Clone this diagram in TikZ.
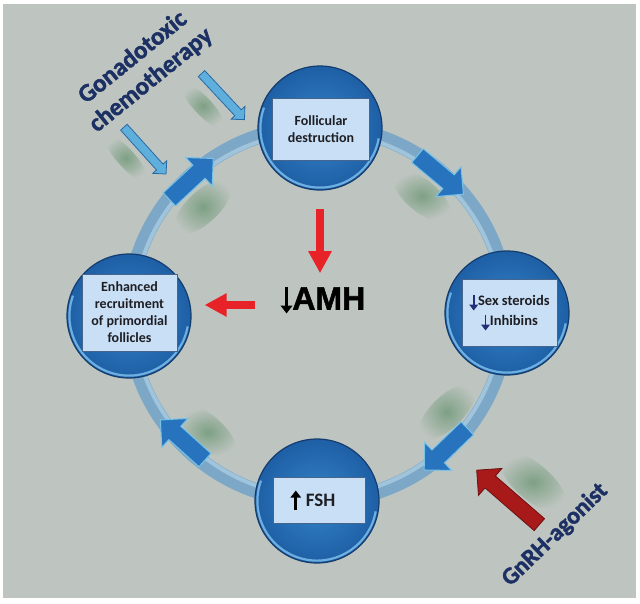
\documentclass[tikz,border=0pt]{standalone}
\usepackage{fontspec}
\setmainfont{Carlito}
\newfontfamily\heavyfont{Carlito}[BoldFeatures={FakeBold=1.6}]
\newfontfamily\amhfont{Liberation Sans}[BoldFeatures={FakeBold=1.6}]
\usetikzlibrary{shapes.arrows,arrows.meta}
\definecolor{bg}{RGB}{190,197,192}
\definecolor{ringc}{RGB}{124,167,198}
\definecolor{ringlight}{RGB}{160,196,219}
\definecolor{bubin}{RGB}{52,132,202}
\definecolor{bubout}{RGB}{30,95,165}
\definecolor{bubedge}{RGB}{20,60,110}
\definecolor{rimlight}{RGB}{110,175,225}
\definecolor{boxfill}{RGB}{200,223,246}
\definecolor{boxedge}{RGB}{70,100,140}
\definecolor{txt}{RGB}{30,30,35}
\definecolor{navy}{RGB}{28,48,100}
\definecolor{arrnavy}{RGB}{35,45,120}
\definecolor{ringarr}{RGB}{40,115,190}
\definecolor{ringarredge}{RGB}{120,195,230}
\definecolor{redc}{RGB}{232,35,40}
\definecolor{darkred}{RGB}{168,25,25}
\definecolor{darkrededge}{RGB}{110,15,15}
\definecolor{chemofill}{RGB}{95,175,220}
\definecolor{chemoedge}{RGB}{40,105,165}
\definecolor{shadowc}{RGB}{125,160,132}
\newcommand\vArrow[5]{\tikz[x=1pt,y=1pt,baseline=0pt]\draw[draw=#1,line width=#4,-{Triangle[length=#5,width=1.45*#5]}] (0,#2)--(0,#3);}
\newcommand\softshadow[4]{\begin{scope}[shift={#1},rotate=#2]\shade[inner color=shadowc,outer color=bg] (0,0) ellipse [x radius=#3,y radius=#4];\end{scope}}
\begin{document}
\begin{tikzpicture}[x=1pt,y=-1pt,
 bubble/.style={circle,minimum size=124pt,inner sep=0pt,draw=bubedge,line width=1.2pt,inner color=bubin,outer color=bubout},
 labelbox/.style={rectangle,fill=boxfill,draw=boxedge,line width=0.8pt,align=center,text=txt,inner sep=2pt,font=\bfseries\fontsize{14}{17}\selectfont},
 ringarrow/.style={single arrow,fill=ringarr,draw=ringarredge,line width=1pt,minimum height=60pt,inner xsep=0pt,inner ysep=8.5pt,single arrow head extend=10.5pt},
 chemoarrow/.style={single arrow,fill=chemofill,draw=chemoedge,line width=0.8pt,minimum height=63pt,inner xsep=0pt,inner ysep=4pt,single arrow head extend=5pt},
 gnrharrow/.style={single arrow,fill=darkred,draw=darkrededge,line width=0.8pt,minimum height=83pt,inner xsep=0pt,inner ysep=7.5pt,single arrow head extend=10pt},
 redarrow/.style={draw=redc,line width=8pt,-{Triangle[length=22pt,width=22pt]}},
 rim/.style={draw=rimlight,line width=2.2pt}
]
\useasboundingbox (0,0) rectangle (640,603);
\fill[white] (0,0) rectangle (640,603);
\fill[bg] (3,4) rectangle (636,598);
% soft shadows
\softshadow{(422,196)}{-40}{36}{16}
\softshadow{(203,207)}{43}{36}{16}
\softshadow{(208,432)}{138}{36}{16}
\softshadow{(447,412)}{-136}{36}{16}
\softshadow{(533,482)}{139}{42}{18}
\softshadow{(203,106)}{-47}{30}{9}
\softshadow{(126,158)}{-48}{30}{9}
% ring
\draw[line width=15pt,draw=ringc] (318,314) ellipse [x radius=189,y radius=187];
\draw[line width=4pt,draw=ringlight] (318,314) ellipse [x radius=184,y radius=182];
% ring arrows
\node[ringarrow,rotate=-40] (ra1) at (437,172) {};
\node[ringarrow,rotate=-136] (ra2) at (449,446) {};
\node[ringarrow,rotate=138] (ra3) at (186,443) {};
\node[ringarrow,rotate=43] (ra4) at (188,182) {};
% bubbles
\node[bubble] (fd) at (320,128) {};
\node[bubble] (ss) at (507,313) {};
\node[bubble] (fsh) at (317,501) {};
\node[bubble] (rec) at (129,316) {};
\foreach \b in {fd,ss,fsh,rec}{
  \draw[rim] ([shift={(10:59.6)}]\b.center) arc[start angle=10,end angle=200,radius=59.6];
}
% boxes
\node[labelbox,minimum width=97pt,minimum height=62pt] (fdbox) at (321,129) {Follicular\\destruction};
\node[labelbox,minimum width=95pt,minimum height=67pt,font=\bfseries\fontsize{14.5}{20}\selectfont] (ssbox) at (509.5,312.5) {\vArrow{arrnavy}{11}{-5}{1.8pt}{6pt}Sex steroids\\\vArrow{arrnavy}{11}{-5}{1.8pt}{6pt}Inhibins};
\node[labelbox,minimum width=95pt,minimum height=77pt] (recbox) at (129.5,312.5) {Enhanced\\recruitment\\of primordial\\follicles};
\node[labelbox,minimum width=92pt,minimum height=46pt,font=\bfseries\fontsize{19}{22}\selectfont] (fshbox) at (319,500) {\vArrow{black}{-3}{16}{2.6pt}{7pt}\hspace{5pt}FSH\hspace*{12pt}};
% AMH
\node[font=\amhfont\bfseries\fontsize{32}{32}\selectfont,text=black,inner sep=0pt] (amh) at (323,300) {\vArrow{black}{23}{-4}{2.2pt}{8pt}AMH};
% red arrows
\coordinate (vt) at ([yshift=-18pt]fd.south);
\draw[redarrow,shorten >=12pt] (vt) -- (vt |- amh.north);
\coordinate (ht) at (255,305);
\draw[redarrow,shorten >=13pt] (ht) -- (ht -| rec.east);
% chemotherapy
\node[font=\heavyfont\bfseries\fontsize{25}{29}\selectfont,text=navy,rotate=39,align=center] (chemo) at (142,69) {Gonadotoxic\\chemotherapy};
\node[chemoarrow,rotate=-47] (ca1) at (221.5,95) {};
\node[chemoarrow,rotate=-48] (ca2) at (143.5,149) {};
% GnRH
\node[gnrharrow,rotate=139] (ga) at (511,500) {};
\node[font=\heavyfont\bfseries\fontsize{24}{27}\selectfont,text=navy,rotate=44] (gnrh) at (555,535) {GnRH-agonist};
\end{tikzpicture}
\end{document}
